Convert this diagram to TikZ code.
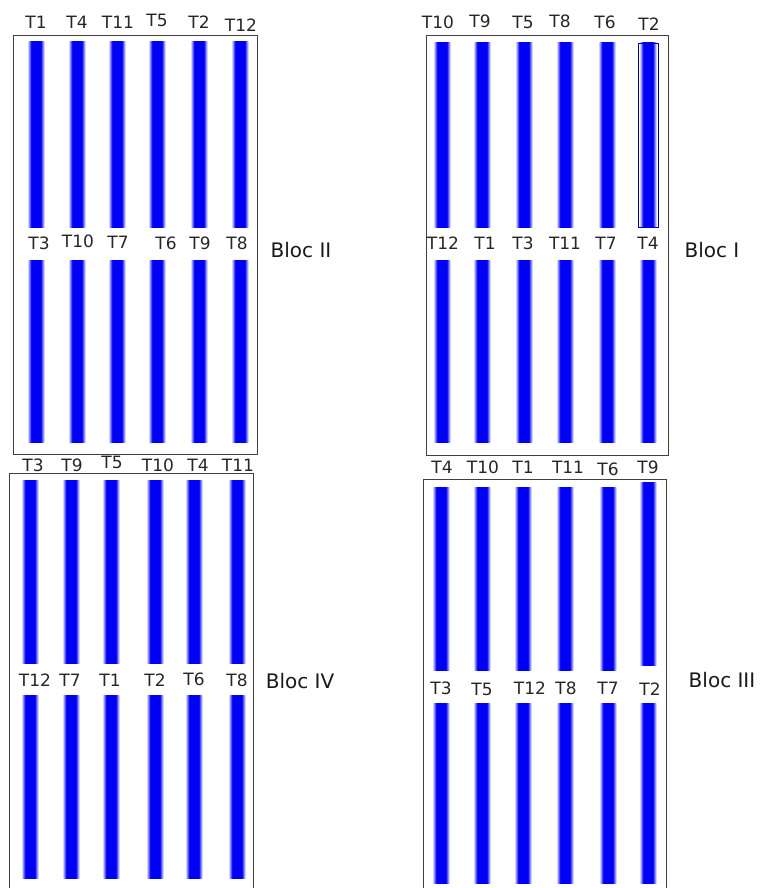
\documentclass[tikz,border=0pt]{standalone}
\usepackage{fontspec}
\setmainfont{DejaVu Sans}
\definecolor{PlotBlue}{HTML}{0000F5}
\usetikzlibrary{positioning}

\pgfdeclarehorizontalshading{stripshade}{100bp}{%
   color(0bp)=(PlotBlue!5); color(25bp)=(PlotBlue!5);
   color(36bp)=(PlotBlue); color(64bp)=(PlotBlue);
   color(75bp)=(PlotBlue!5); color(100bp)=(PlotBlue!5)}
\tikzset{
   bloc/.style={draw=black!75, line width=1pt},
   trt/.style={font=\fontsize{17}{19}\selectfont, text=black!85, inner sep=0pt},
   bloclabel/.style={font=\fontsize{20}{22}\selectfont, text=black!90, inner sep=0pt}
}
% one plot strip: x centre, top, bottom
\newcommand{\strip}[3]{%
   \shade[shading=stripshade] (#1-8.5,#2) rectangle (#1+8.5,#3);
}

\begin{document}
\begin{tikzpicture}[x=1pt, y=-1pt]
            \useasboundingbox (0,0) rectangle (763,888);
            \clip (0,0) rectangle (763,888);
            % Bloc II
            \draw[bloc] (13,36) rectangle (257,454);
            \foreach \x in {36,77,117,157,199,240} {
               \strip{\x}{42}{227}
               \strip{\x}{260}{442}
            }
            \foreach \t/\x/\y in {T1/36/22, T4/77/22, T11/118/22, T5/157/20, T2/199/22, T12/241/25}
               \node[trt] (II-top-\t) at (\x,\y) {\t};
            \foreach \t/\x/\y in {T3/39/243, T10/78/241, T7/118/242, T6/166/243, T9/200/243, T8/237/243}
               \node[trt] (II-mid-\t) at (\x,\y) {\t};
            \node[bloclabel] (blocII) at (301,250) {Bloc II};
            % Bloc I
            \draw[bloc] (426,36) rectangle (668,455);
            \foreach \x in {442,482,524,565,607,648} {
               \strip{\x}{43}{227}
               \strip{\x}{260}{442}
            }
            \draw[PlotBlue!70!black, line width=0.8pt] (638,43) rectangle (658,227);
            \foreach \t/\x/\y in {T10/438/22, T9/480/21, T5/523/22, T8/560/21, T6/605/22, T2/649/24}
               \node[trt] (I-top-\t) at (\x,\y) {\t};
            \foreach \t/\x/\y in {T12/443/243, T1/485/243, T3/523/243, T11/565/243, T7/606/243, T4/648/243}
               \node[trt] (I-mid-\t) at (\x,\y) {\t};
            \node[bloclabel] (blocI) at (712,250) {Bloc I};
            % Bloc IV
            \draw[bloc] (9,473) rectangle (253,900);
            \foreach \x in {30,71,111,155,194,237} {
               \strip{\x}{480}{663}
               \strip{\x}{695}{878}
            }
            \foreach \t/\x/\y in {T3/33/465, T9/72/465, T5/112/462, T10/158/465, T4/198/465, T11/238/465}
               \node[trt] (IV-top-\t) at (\x,\y) {\t};
            \foreach \t/\x/\y in {T12/35/680, T7/70/680, T1/110/680, T2/155/680, T6/194/679, T8/237/680}
               \node[trt] (IV-mid-\t) at (\x,\y) {\t};
            \node[bloclabel] (blocIV) at (300,681) {Bloc IV};
            % Bloc III
            \draw[bloc] (423,479) rectangle (666,900);
            \foreach \x in {441,482,523,565,608} {
               \strip{\x}{487}{670}
            }
            \strip{648}{482}{665}
            \foreach \x in {441,482,523,565,608,648} {
               \strip{\x}{703}{883}
            }
            \foreach \t/\x/\y in {T4/442/467, T10/483/467, T1/523/467, T11/568/467, T6/608/469, T9/648/467}
               \node[trt] (III-top-\t) at (\x,\y) {\t};
            \foreach \t/\x/\y in {T3/441/688, T5/482/689, T12/530/688, T8/566/688, T7/608/688, T2/650/689}
               \node[trt] (III-mid-\t) at (\x,\y) {\t};
            \node[bloclabel] (blocIII) at (722,680) {Bloc III};
         \end{tikzpicture}
\end{document}
